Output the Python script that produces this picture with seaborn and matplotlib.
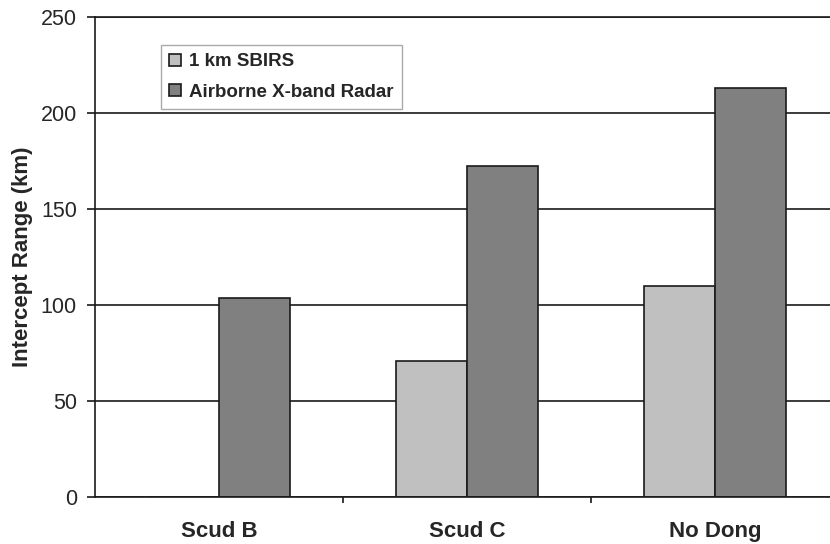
import numpy as np
import pandas as pd
import seaborn as sns
import matplotlib.pyplot as plt

# values
missiles = ["Scud B", "Scud C", "No Dong"]
sbirs = [0, 71, 110]
radar = [103.5, 172.5, 213]
series_names = ["1 km SBIRS", "Airborne X-band Radar"]

df = pd.DataFrame({
    "Missile": missiles * 2,
    "Sensor": [series_names[0]] * 3 + [series_names[1]] * 3,
    "Range": sbirs + radar,
})

sns.set_style("white")
plt.rcParams['font.family'] = ['Liberation Sans', 'DejaVu Sans']

fig = plt.figure(figsize=(8.3, 5.44), dpi=100)
ax = fig.add_axes([0.1145, 0.0864, 0.8964, 0.8824])

sns.barplot(data=df, x="Missile", y="Range", hue="Sensor",
            palette=["#c0c0c0", "#808080"], width=0.573, gap=0,
            edgecolor="#1a1a1a", linewidth=1.2, saturation=1, ax=ax)

ax.set_xlim(-0.5, 2.5)
ax.set_ylim(0, 250)
ax.set_yticks([0, 50, 100, 150, 200, 250])
ax.set_axisbelow(True)
ax.yaxis.grid(True, color="#1a1a1a", linewidth=1.2)
ax.xaxis.grid(False)

for s in ["left", "bottom", "top"]:
    ax.spines[s].set_visible(True)
    ax.spines[s].set_color("#1a1a1a")
    ax.spines[s].set_linewidth(1.2)
ax.spines["right"].set_visible(False)

ax.tick_params(axis="y", which="major", length=6, width=1.2, direction="out",
               color="#1a1a1a", pad=7, labelsize=15.5, left=True)
ax.tick_params(axis="x", which="major", length=0, pad=17, labelsize=16)
ax.set_xticks([0.5, 1.5], minor=True)
ax.tick_params(axis="x", which="minor", length=4, width=1.2, direction="out",
               color="#1a1a1a", bottom=True)
for lbl in ax.get_xticklabels():
    lbl.set_fontweight("bold")

ax.set_xlabel("")
ax.set_ylabel("Intercept Range (km)", fontsize=16, fontweight="bold")
ax.yaxis.set_label_coords(-0.083, 0.5)

leg = ax.legend(loc="upper left", bbox_to_anchor=(0.0887, 0.9417),
                borderaxespad=0, fancybox=False, framealpha=1,
                edgecolor="#aaaaaa", prop={"weight": "bold", "size": 13.5},
                handlelength=0.6, handleheight=0.6, handletextpad=0.45,
                borderpad=0.45, labelspacing=0.7)
leg.get_frame().set_linewidth(1.0)

fig.savefig("out.png", dpi=100)
